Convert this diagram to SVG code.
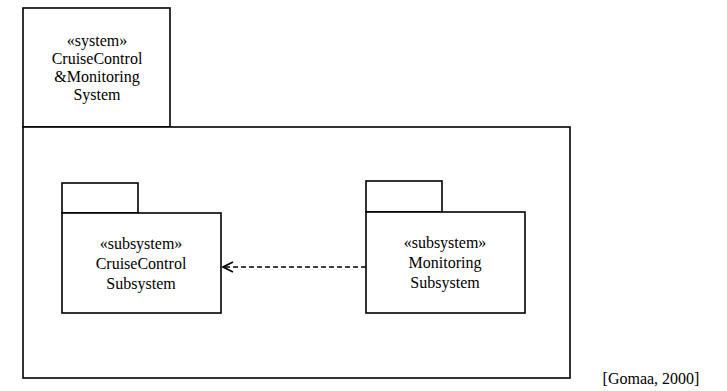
<svg xmlns="http://www.w3.org/2000/svg" width="727" height="391" viewBox="0 0 727 391">
<style>
.box{fill:#fff;stroke:#000;stroke-width:1.6}
.t{font-size:16px;fill:#000;text-anchor:middle}
.dep{fill:none;stroke:#000;stroke-width:1.6;stroke-dasharray:5,3}
</style>
<defs>
<marker id="open" markerWidth="12" markerHeight="12" refX="11" refY="6" orient="auto" markerUnits="userSpaceOnUse">
<path d="M1,1 L11,6 L1,11" fill="none" stroke="#000" stroke-width="1.6"/>
</marker>
</defs>
<rect width="727" height="391" fill="#fff"/>
<g font-family="'Liberation Serif', 'Times New Roman', serif">
<g id="system">
<rect class="box" x="23" y="8" width="147" height="119"/>
<rect class="box" x="23" y="127" width="547" height="251"/>
<text class="t" x="97" y="46">«system»</text>
<text class="t" x="97" y="64">CruiseControl</text>
<text class="t" x="97" y="82">&amp;Monitoring</text>
<text class="t" x="97" y="100">System</text>
</g>
<g id="cruise">
<rect class="box" x="62" y="183" width="76" height="30"/>
<rect class="box" x="62" y="213" width="159" height="100"/>
<text class="t" x="141" y="249">«subsystem»</text>
<text class="t" x="141" y="269">CruiseControl</text>
<text class="t" x="141" y="289">Subsystem</text>
</g>
<g id="monitoring">
<rect class="box" x="366" y="181" width="76" height="31"/>
<rect class="box" x="366" y="212" width="159" height="101"/>
<text class="t" x="445" y="248">«subsystem»</text>
<text class="t" x="445" y="268">Monitoring</text>
<text class="t" x="445" y="288">Subsystem</text>
</g>
<g id="connectors">
<path class="dep" d="M366,267 L223,267" marker-end="url(#open)"/>
</g>
<text class="t" x="651" y="384">[Gomaa, 2000]</text>
</g>
</svg>
